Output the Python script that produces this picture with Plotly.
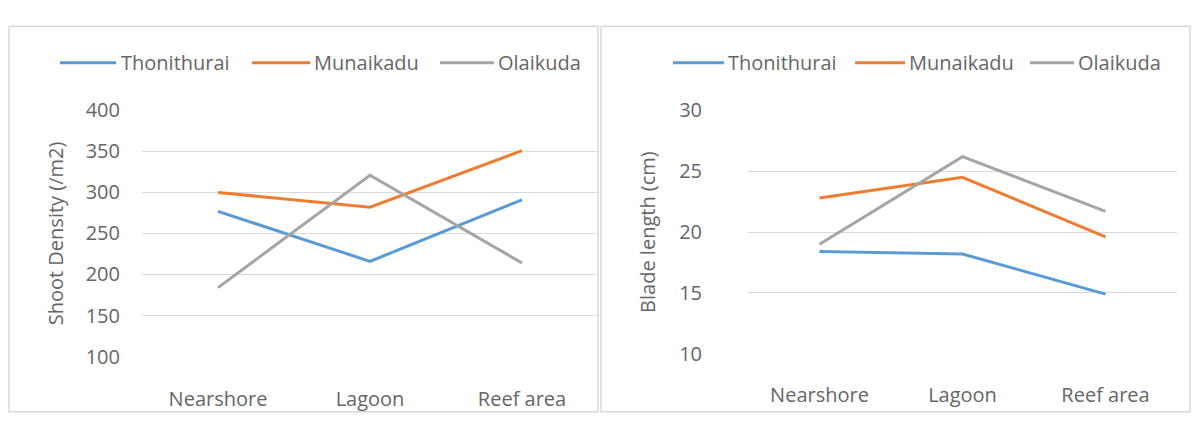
import plotly.graph_objects as go

W, H = 1197, 421

sites = ["Nearshore", "Lagoon", "Reef area"]
series_names = ["Thonithurai", "Munaikadu", "Olaikuda"]
colors = ["#5B9BD5", "#ED7D31", "#A5A5A5"]

# Shoot density (/m2) per site
shoot_thonithurai = [277, 216, 291]
shoot_munaikadu = [300, 282, 351]
shoot_olaikuda = [184, 321, 214]

# Blade length (cm) per site
blade_thonithurai = [18.4, 18.2, 14.9]
blade_munaikadu = [22.8, 24.5, 19.6]
blade_olaikuda = [19.0, 26.2, 21.7]

shoot_ticks = [100, 150, 200, 250, 300, 350, 400]
blade_ticks = [10, 15, 20, 25, 30]

FONT = "Open Sans"
TXT = "#666666"
GRID = "#D9D9D9"
FS = 20


def px(x):
    return x / W


def py(y):
    return 1 - y / H


fig = go.Figure()

shoot = [shoot_thonithurai, shoot_munaikadu, shoot_olaikuda]
blade = [blade_thonithurai, blade_munaikadu, blade_olaikuda]

for name, vals, col in zip(series_names, shoot, colors):
    fig.add_trace(go.Scatter(x=sites, y=vals, name=name, mode="lines",
                             line=dict(color=col, width=3),
                             xaxis="x", yaxis="y", showlegend=False))
for name, vals, col in zip(series_names, blade, colors):
    fig.add_trace(go.Scatter(x=sites, y=vals, name=name, mode="lines",
                             line=dict(color=col, width=3),
                             xaxis="x2", yaxis="y2", showlegend=False))

axis_font = dict(family=FONT, size=FS, color=TXT)

# Legend rows (key line start/end, label start) for each panel
legend_left = [(60, 116, 119), (252, 310, 312), (440, 494, 496)]
legend_right = [(673, 724, 726), (855, 905, 907), (1030, 1074, 1076)]
LEG_Y = 52

shapes = [
    dict(type="rect", xref="paper", yref="paper", x0=px(9), x1=px(598),
         y0=py(425), y1=py(13), line=dict(color="#D9D9D9", width=1.5)),
    dict(type="rect", xref="paper", yref="paper", x0=px(601), x1=px(1190),
         y0=py(425), y1=py(13), line=dict(color="#D9D9D9", width=1.5)),
]
annotations = []
for row in (legend_left, legend_right):
    for (x0, x1, xt), name, col in zip(row, series_names, colors):
        shapes.append(dict(type="line", xref="paper", yref="paper",
                           x0=px(x0), x1=px(x1), y0=py(LEG_Y), y1=py(LEG_Y),
                           line=dict(color=col, width=3)))
        annotations.append(dict(text=name, xref="paper", yref="paper",
                                x=px(xt), y=py(LEG_Y), xanchor="left", yanchor="middle",
                                showarrow=False, font=axis_font))

fig.update_layout(
    width=W, height=H,
    margin=dict(l=0, r=0, t=0, b=0),
    paper_bgcolor="white", plot_bgcolor="white",
    font=axis_font,
    xaxis=dict(domain=[px(142), px(598)], type="category", range=[-0.5, 2.5],
               showgrid=False, showline=False, ticks="", tickfont=axis_font,
               ticklabelstandoff=28),
    yaxis=dict(domain=[py(366), py(103)], range=[100, 400], tickvals=shoot_ticks,
               showgrid=True, gridcolor=GRID, gridwidth=1, zeroline=False,
               showline=False, ticks="", tickfont=axis_font, ticklabelstandoff=21,
               title=dict(text="Shoot Density (/m2)", font=axis_font, standoff=16),
               anchor="x"),
    xaxis2=dict(domain=[px(748), px(1177)], type="category", range=[-0.5, 2.5],
                showgrid=False, showline=False, ticks="", tickfont=axis_font,
                ticklabelstandoff=27, anchor="y2"),
    yaxis2=dict(domain=[py(363), py(103)], range=[10, 30], tickvals=blade_ticks,
                showgrid=True, gridcolor=GRID, gridwidth=1, zeroline=False,
                showline=False, ticks="", tickfont=axis_font, ticklabelstandoff=45,
                title=dict(text="Blade length (cm)", font=axis_font, standoff=18),
                anchor="x2"),
    shapes=shapes,
    annotations=annotations,
)

fig.write_html("out.html")
